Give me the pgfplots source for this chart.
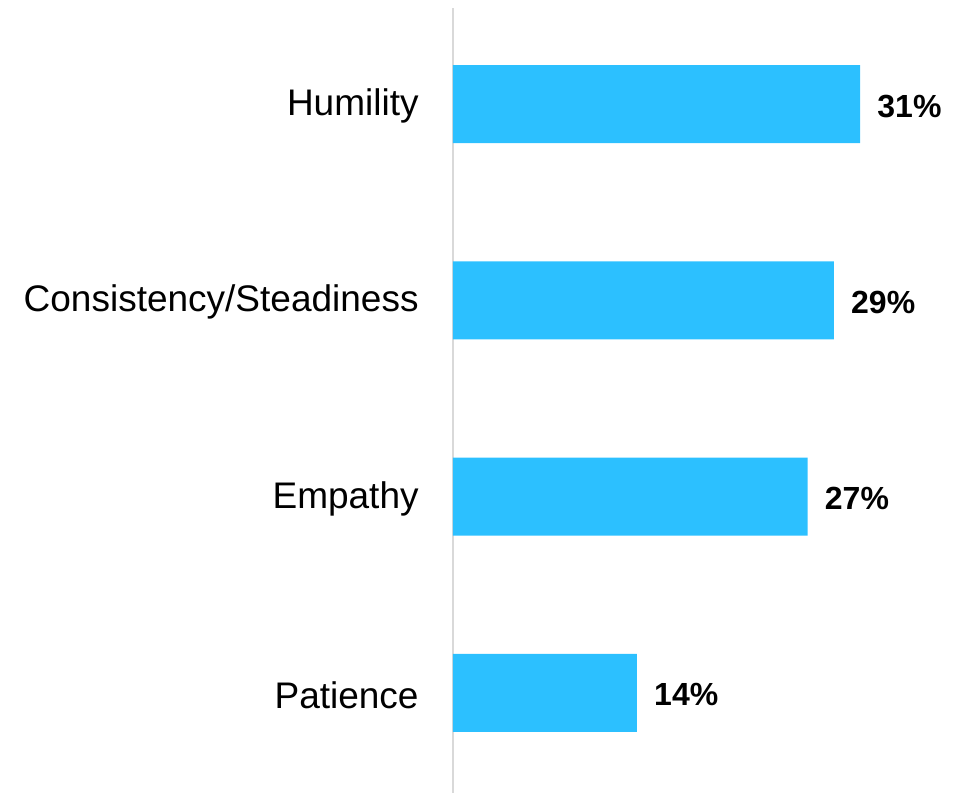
\documentclass[border=0pt]{standalone}
\usepackage{pgfplots}
\pgfplotsset{compat=1.18}
\usepackage{fontspec}
\setmainfont{Liberation Sans}
\definecolor{barblue}{HTML}{2CC0FF}
\definecolor{axisgrey}{HTML}{D9D9D9}
\begin{document}
\begin{tikzpicture}
\begin{axis}[
  at={(0,0)}, anchor=south west,
  scale only axis,
  width=252.5pt, height=392.5pt,
  xbar, bar width=39pt,
  xmin=0, xmax=38.46,
  ymin=-0.5, ymax=3.5,
  y dir=reverse,
  ytick={0,1,2,3},
  yticklabels={Humility,Consistency/Steadiness,Empathy,Patience},
  yticklabel style={font=\fontsize{18.5}{22}\selectfont, inner sep=0pt, xshift=-17pt},
  major tick length=0pt,
  axis x line=none,
  axis y line*=left,
  y axis line style={axisgrey, line width=1pt},
  /pgf/number format/assume math mode=true,
  nodes near coords={\textbf{\pgfmathprintnumber{\pgfplotspointmeta}\%}},
  every node near coord/.style={font=\fontsize{16}{19}\selectfont\bfseries, black, anchor=west, inner sep=0pt, xshift=8.5pt, yshift=-1pt},
  clip=false,
]
\addplot+[fill=barblue, draw=none, yshift=1pt] coordinates {(31,0) (29,1) (27,2) (14,3)};
\end{axis}
\pgfresetboundingbox
\path (-226.5pt,0pt) rectangle (252.5pt,396.5pt);
\end{tikzpicture}
\end{document}
